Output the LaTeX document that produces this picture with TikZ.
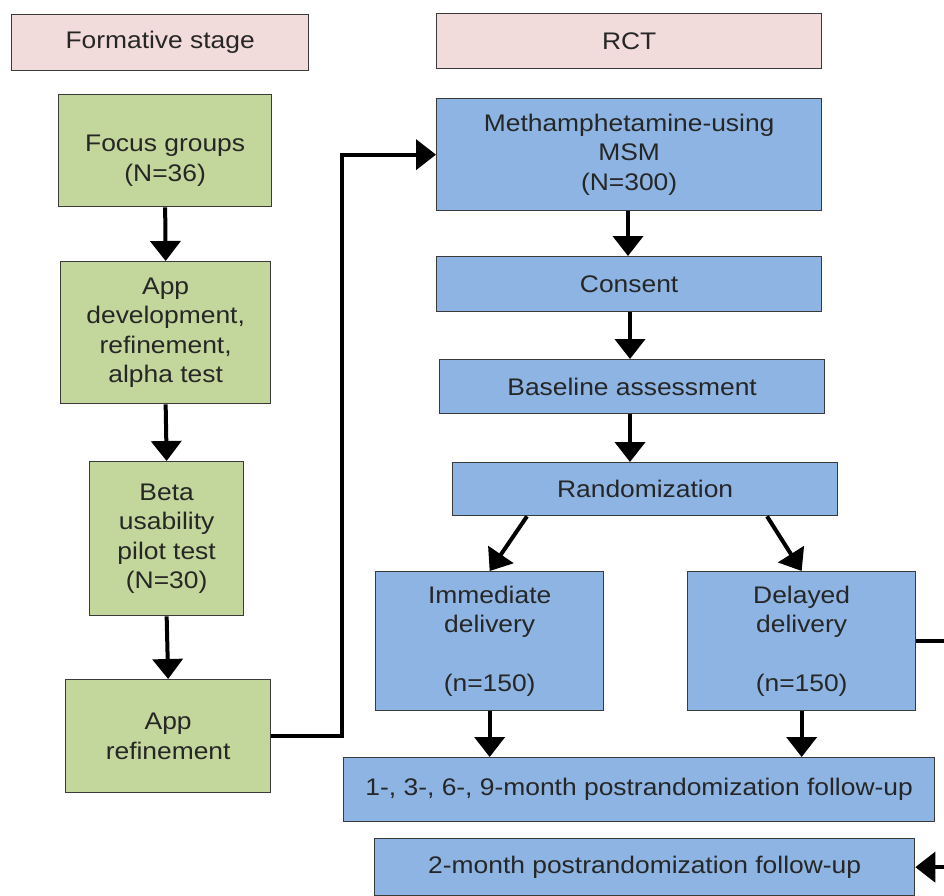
\documentclass[tikz,border=0pt]{standalone}
\usepackage{fontspec}
\setmainfont{Liberation Sans}[FakeStretch=1.1]
\usetikzlibrary{arrows.meta,calc}
\definecolor{pinkf}{HTML}{F2DCDB}
\definecolor{greenf}{HTML}{C3D69B}
\definecolor{bluef}{HTML}{8DB4E2}
\definecolor{edge}{HTML}{3A3A3A}
\begin{document}
\begin{tikzpicture}[x=1pt,y=-1pt,
  box/.style={draw=edge,line width=1.3pt,align=center,inner sep=0pt,anchor=north west,
    text=black!85,font=\fontsize{24}{29.5}\selectfont},
  pinkbox/.style={box,fill=pinkf},
  greenbox/.style={box,fill=greenf},
  bluebox/.style={box,fill=bluef},
  arr/.style={line width=4pt,-{Triangle[length=20pt,width=30pt]}},
  conn/.style={line width=4pt}]
\useasboundingbox (0,0) rectangle (944,895);
\clip (0,0) rectangle (944,895);
% headers
\node[pinkbox,minimum width=297pt,minimum height=56pt] (fs) at (11,14) {Formative stage};
\node[pinkbox,minimum width=385pt,minimum height=55pt] (rct) at (436,13) {RCT};
% formative column
\node[greenbox,minimum width=213pt,minimum height=112pt] (fg) at (58,94) {\rule{0pt}{37pt}Focus groups\\(N=36)};
\node[greenbox,minimum width=210pt,minimum height=142pt] (ad) at (60,261) {App\\development,\\refinement,\\alpha test};
\node[greenbox,minimum width=154pt,minimum height=154pt] (beta) at (89,461) {Beta\\usability\\pilot test\\(N=30)};
\node[greenbox,minimum width=205pt,minimum height=113pt] (aref) at (65,679) {App\\refinement};
% RCT column
\node[bluebox,minimum width=385pt,minimum height=112pt] (meth) at (436,98) {Methamphetamine-using\\MSM\\(N=300)};
\node[bluebox,minimum width=385pt,minimum height=55pt] (cons) at (436,256) {Consent};
\node[bluebox,minimum width=385pt,minimum height=54pt] (base) at (439,359) {Baseline assessment};
\node[bluebox,minimum width=385pt,minimum height=53pt] (rand) at (452,462) {Randomization};
\node[bluebox,minimum width=228pt,minimum height=139pt] (imm) at (375,571) {Immediate\\delivery\\[29.5pt](n=150)};
\node[bluebox,minimum width=228pt,minimum height=139pt] (del) at (687,571) {Delayed\\delivery\\[29.5pt](n=150)};
\node[bluebox,minimum width=591pt,minimum height=64pt] (fu) at (343,757) {1-, 3-, 6-, 9-month postrandomization follow-up};
\node[bluebox,minimum width=540pt,minimum height=57pt] (two) at (374,838) {2-month postrandomization follow-up};
% connectors
\draw[arr] (fg.south) -- (ad.north);
\draw[arr] (ad.south) -- (beta.north);
\draw[arr] (beta.south) -- (aref.north);
\coordinate (c1) at (342,0);
\draw[arr] (aref.east) -| (c1 |- meth.west) -- (meth.west);
\draw[arr] (meth.south -| 628,0) -- (cons.north -| 628,0);
\draw[arr] (cons.south -| 630,0) -- (base.north -| 630,0);
\draw[arr] (base.south -| 630,0) -- (rand.north -| 630,0);
\draw[arr] ($(rand.south west)+(75,0)$) -- (imm.north);
\draw[arr] ($(rand.south west)+(315,0)$) -- (del.north);
\draw[arr] (imm.south) -- (imm.south |- fu.north);
\draw[arr] (del.south) -- (del.south |- fu.north);
\coordinate (r) at (975,0);
\draw[arr] (del.east) -| (r |- two.east) -- (two.east);
\end{tikzpicture}
\end{document}
